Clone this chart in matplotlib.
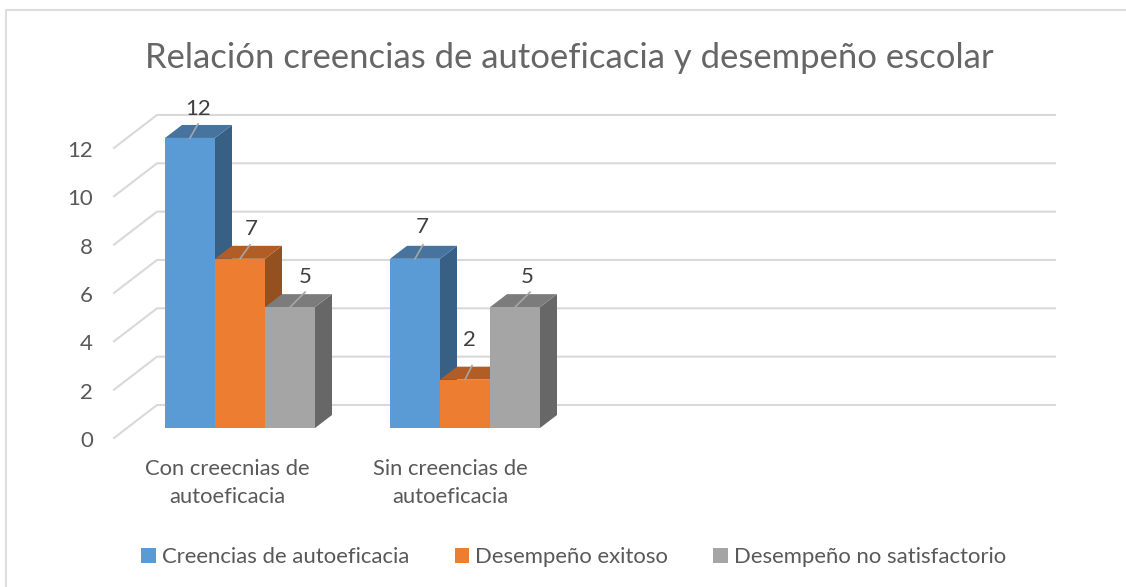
import matplotlib
matplotlib.use('Agg')
import matplotlib.pyplot as plt
from matplotlib.patches import Polygon, Patch

plt.rcParams['font.family'] = ['Lato', 'DejaVu Sans']

# Datos del grafico
categorias = ['Con creecnias de\nautoeficacia', 'Sin creencias de\nautoeficacia']
series = ['Creencias de autoeficacia', 'Desempeño exitoso', 'Desempeño no satisfactorio']
creencias = [12, 7]
exitoso = [7, 2]
no_satisfactorio = [5, 5]
valores_eje = [0, 2, 4, 6, 8, 10, 12]
titulo = 'Relación creencias de autoeficacia y desempeño escolar'

# Colores (frente, tapa, lateral)
col_frente = ['#5b9bd5', '#ed7d31', '#a5a5a5']
col_tapa = ['#46749f', '#b25d25', '#7c7c7c']
col_lado = ['#386084', '#94501f', '#676767']
gris_grid = '#d9d9d9'
gris_txt = '#595959'

# Escala: pixeles por categoria y por unidad, origen del plano frontal
PX_CAT = 225.0
PX_VAL = 24.17
X0 = 240.0
Y0 = 428.0
W, H = 1126, 587


def dx(px):
    return px / PX_CAT


def dy(px):
    return px / PX_VAL


fig = plt.figure(figsize=(W / 100, H / 100), dpi=100)
ax = fig.add_axes([0, 0, 1, 1])
ax.set_xlim(-X0 / PX_CAT, (W - X0) / PX_CAT)
ax.set_ylim((Y0 - H) / PX_VAL, Y0 / PX_VAL)
ax.axis('off')

# Marco del grafico (arriba e izquierda)
ax.plot([dx(6 - X0), dx(6 - X0), dx(W - X0)], [dy(Y0 - H), dy(Y0 - 10), dy(Y0 - 10)],
        color='#dedede', lw=1.5, zorder=1)

# Rejilla con el piso inclinado
for v in valores_eje:
    ax.plot([dx(114 - X0), dx(157 - X0), dx(1055 - X0)],
            [v + dy(-10), v + dy(23), v + dy(23)],
            color=gris_grid, lw=1.5, zorder=1, solid_joinstyle='miter')
    ax.text(dx(93 - X0), v + dy(-13), str(v), ha='right', va='center',
            fontsize=16, color=gris_txt)

# Barras 3D
ancho = 50 / PX_CAT
fondo_x = dx(17)
fondo_y = dy(13)
# desplazamiento de cada etiqueta y su guia: (x fin, alto fin, x texto, alto texto)
guias = [[(8, 14, 8, 29), (10, 14, 11, 30), (15, 15, 15, 30)],
         [(8, 14, 7, 32), (7, 14, 4, 40), (15, 15, 12, 30)]]

valores = [creencias, exitoso, no_satisfactorio]
for c in range(len(categorias)):
    for s, vals in enumerate(valores):
        v = vals[c]
        x1 = c + (s - 1.5) * ancho
        x2 = x1 + ancho
        ax.add_patch(Polygon([(x2, 0), (x2 + fondo_x, fondo_y), (x2 + fondo_x, v + fondo_y), (x2, v)],
                             fc=col_lado[s], ec='none', zorder=3 + s))
        ax.add_patch(Polygon([(x1, v), (x2, v), (x2 + fondo_x, v + fondo_y), (x1 + fondo_x, v + fondo_y)],
                             fc=col_tapa[s], ec='none', zorder=3 + s))
        ax.bar(x1 + ancho / 2, v, width=ancho, color=col_frente[s], zorder=3 + s)
        xc = x1 + ancho / 2
        g = guias[c][s]
        ax.plot([xc, xc + dx(g[0])], [v, v + dy(g[1])],
                color='#a6a6a6', lw=1.2, zorder=10)
        ax.text(xc + dx(g[2]), v + dy(g[3]), str(v), ha='center', va='center',
                fontsize=16, color='#404040', zorder=11)

# Etiquetas de categoria
offs_cat = [-13, -15]
for c, etiqueta in enumerate(categorias):
    ax.text(c + dx(offs_cat[c]), dy(-55), etiqueta, ha='center', va='center',
            fontsize=15.8, color=gris_txt, linespacing=1.45)

ax.text(dx(569 - X0), dy(Y0 - 58), titulo, ha='center', va='center',
        fontsize=24.9, color='#666666')

handles = [Patch(fc=col_frente[i], ec='none', label=series[i]) for i in range(3)]
fig.legend(handles=handles, ncol=3, loc='center', bbox_to_anchor=(574 / W, 1 - 557 / H),
           frameon=False, fontsize=15.9, labelcolor=gris_txt,
           handlelength=0.64, handleheight=0.64, handletextpad=0.3, columnspacing=2.04)

fig.savefig('out.png', dpi=100)
